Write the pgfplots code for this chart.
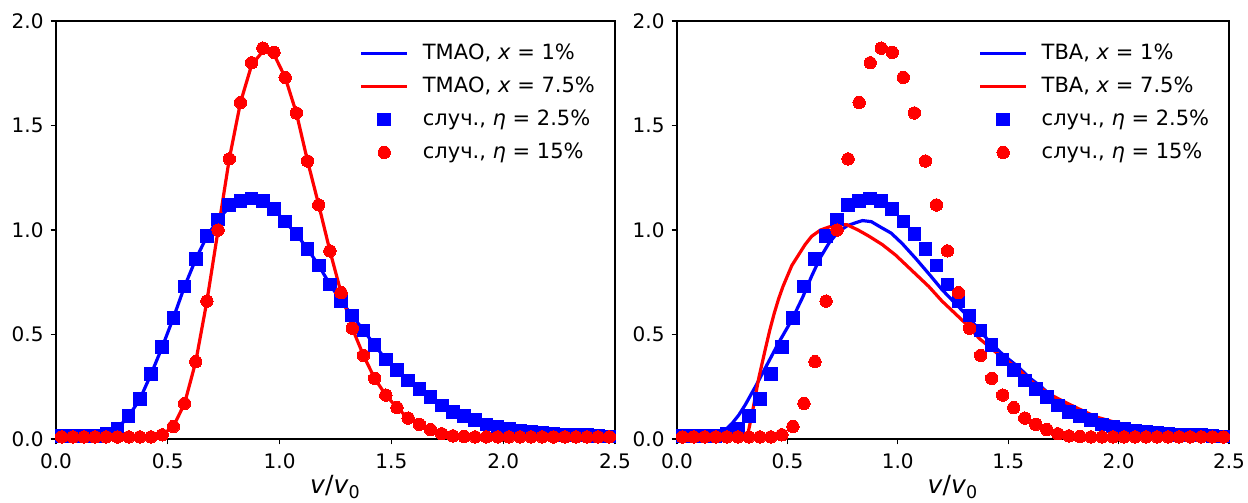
\documentclass[border=0pt]{standalone}
\usepackage{fontspec}
\setmainfont{DejaVu Sans}
\usepackage{pgfplots}
\pgfplotsset{compat=1.18}
\usepackage{pgfplotstable}

\pgfplotstableread{
x sq ci
0.025 0.015 0.01
0.075 0.015 0.01
0.125 0.015 0.01
0.175 0.015 0.01
0.225 0.025 0.01
0.275 0.05 0.01
0.325 0.11 0.01
0.375 0.19 0.01
0.425 0.31 0.01
0.475 0.44 0.02
0.525 0.58 0.06
0.575 0.73 0.17
0.625 0.86 0.37
0.675 0.97 0.66
0.725 1.05 1.00
0.775 1.12 1.34
0.825 1.14 1.61
0.875 1.15 1.80
0.925 1.14 1.87
0.975 1.10 1.85
1.025 1.04 1.73
1.075 0.98 1.56
1.125 0.91 1.33
1.175 0.83 1.12
1.225 0.74 0.90
1.275 0.66 0.70
1.325 0.59 0.53
1.375 0.52 0.40
1.425 0.45 0.29
1.475 0.38 0.21
1.525 0.33 0.15
1.575 0.28 0.10
1.625 0.24 0.07
1.675 0.20 0.045
1.725 0.16 0.025
1.775 0.13 0.015
1.825 0.11 0.012
1.875 0.09 0.01
1.925 0.07 0.01
1.975 0.06 0.01
2.025 0.05 0.01
2.075 0.04 0.01
2.125 0.035 0.01
2.175 0.03 0.01
2.225 0.025 0.01
2.275 0.02 0.01
2.325 0.02 0.01
2.375 0.018 0.01
2.425 0.015 0.01
2.475 0.012 0.01
}\markdata

\pgfplotstableread{
x y
0 0.015
0.025 0.015
0.175 0.015
0.225 0.025
0.275 0.05
0.325 0.11
0.375 0.19
0.425 0.31
0.475 0.44
0.525 0.58
0.575 0.73
0.625 0.86
0.675 0.97
0.725 1.05
0.775 1.11
0.825 1.14
0.875 1.15
0.925 1.14
0.975 1.10
1.025 1.04
1.075 0.98
1.125 0.91
1.175 0.83
1.225 0.74
1.275 0.66
1.325 0.59
1.375 0.52
1.425 0.45
1.475 0.38
1.525 0.33
1.575 0.28
1.625 0.24
1.675 0.20
1.725 0.16
1.775 0.13
1.825 0.11
1.875 0.09
1.925 0.07
1.975 0.06
2.025 0.05
2.075 0.04
2.125 0.035
2.175 0.03
2.225 0.025
2.275 0.02
2.375 0.018
2.5 0.012
}\tmaoA

\pgfplotstableread{
x y
0 0.01
0.425 0.01
0.475 0.02
0.525 0.06
0.575 0.17
0.625 0.37
0.675 0.66
0.725 1.00
0.775 1.34
0.825 1.61
0.875 1.79
0.925 1.855
0.975 1.84
1.025 1.73
1.075 1.56
1.125 1.33
1.175 1.12
1.225 0.90
1.275 0.70
1.325 0.53
1.375 0.40
1.425 0.29
1.475 0.21
1.525 0.15
1.575 0.10
1.625 0.07
1.675 0.045
1.725 0.025
1.775 0.015
1.825 0.012
1.875 0.01
2.5 0.01
}\tmaoB

\pgfplotstableread{
x y
0 0.02
0.15 0.02
0.19 0.025
0.22 0.045
0.25 0.075
0.28 0.115
0.31 0.165
0.36 0.26
0.41 0.36
0.46 0.46
0.52 0.57
0.57 0.68
0.61 0.78
0.65 0.87
0.69 0.94
0.73 0.99
0.77 1.02
0.81 1.035
0.84 1.045
0.88 1.04
0.92 1.015
0.97 0.985
1.02 0.935
1.08 0.865
1.145 0.785
1.20 0.715
1.25 0.66
1.31 0.595
1.37 0.52
1.42 0.46
1.48 0.40
1.54 0.35
1.60 0.29
1.65 0.25
1.69 0.21
1.75 0.17
1.80 0.135
1.85 0.11
1.90 0.085
1.95 0.068
2.00 0.055
2.10 0.038
2.20 0.027
2.30 0.02
2.40 0.017
2.50 0.015
}\tbaA

\pgfplotstableread{
x y
0 0.01
0.30 0.01
0.32 0.02
0.34 0.12
0.37 0.29
0.40 0.43
0.42 0.52
0.44 0.60
0.46 0.67
0.48 0.73
0.50 0.78
0.52 0.83
0.55 0.88
0.58 0.93
0.61 0.97
0.65 1.00
0.69 1.015
0.74 1.025
0.77 1.025
0.82 1.00
0.87 0.97
0.93 0.93
0.99 0.88
1.05 0.82
1.10 0.77
1.14 0.73
1.20 0.66
1.25 0.61
1.31 0.55
1.37 0.48
1.45 0.41
1.54 0.34
1.60 0.28
1.69 0.213
1.75 0.18
1.84 0.134
1.90 0.105
1.99 0.078
2.07 0.06
2.15 0.046
2.22 0.035
2.30 0.025
2.40 0.02
2.50 0.015
}\tbaB

\pgfplotsset{
  panel/.style={
    scale only axis, height=209pt,
    xmin=0, xmax=2.5, ymin=0, ymax=2,
    xtick={0,0.5,1,1.5,2,2.5}, ytick={0,0.5,1,1.5,2},
    tick align=outside, tick pos=left,
    major tick length=2.7pt,
    tick style={black, line width=0.65pt},
    axis line style={black, line width=0.65pt},
    every tick label/.append style={font=\fontsize{10}{12}\selectfont},
    xticklabel style={yshift=-1pt},
    /pgf/number format/fixed, /pgf/number format/fixed zerofill,
    /pgf/number format/precision=1, /pgf/number format/assume math mode=true,
    xlabel={\textit{v}/\textit{v}\textsubscript{0}},
    xlabel style={font=\fontsize{12.5}{15}\selectfont, at={(axis description cs:0.5,0)}, anchor=center, yshift=-24pt},
    legend style={draw=none, fill=none, at={(axis description cs:0.972,0.955)}, anchor=north east,
      font=\fontsize{10.5}{12.5}\selectfont, row sep=3.2pt, inner sep=0pt},
    legend cell align=left,
    clip=true,
  },
  lineplot/.style={line width=1.6pt, mark=none,
    legend image code/.code={\draw[##1] (0pt,0pt) -- (23pt,0pt); \path (28pt,0pt);}},
  sqplot/.style={only marks, color=blue, mark=square*, mark size=3.15pt, mark options={solid, draw=blue, fill=blue, line width=0pt},
    legend image code/.code={\draw[##1] plot coordinates {(11.5pt,0pt)}; \path (0pt,0pt) (28pt,0pt);}},
  ciplot/.style={only marks, color=red, mark=*, mark size=3.1pt, mark options={solid, draw=red, fill=red, line width=0pt},
    legend image code/.code={\draw[##1] plot coordinates {(11.5pt,0pt)}; \path (0pt,0pt) (28pt,0pt);}},
}

\begin{document}
\begin{tikzpicture}
\useasboundingbox (-28pt,-32pt) rectangle (596pt,219.5pt);
\begin{axis}[panel, width=279.5pt, at={(0pt,0pt)}, anchor=south west]
\addplot[lineplot, blue] table[x=x, y=y] {\tmaoA};
\addlegendentry{ТМАО, \textit{x} = 1\%}
\addplot[lineplot, red] table[x=x, y=y] {\tmaoB};
\addlegendentry{ТМАО, \textit{x} = 7.5\%}
\addplot[sqplot] table[x=x, y=sq] {\markdata};
\addlegendentry{случ., \textit{η} = 2.5\%}
\addplot[ciplot] table[x=x, y=ci] {\markdata};
\addlegendentry{случ., \textit{η} = 15\%}
\end{axis}
\begin{axis}[panel, width=276pt, at={(310.5pt,0pt)}, anchor=south west]
\addplot[lineplot, blue] table[x=x, y=y] {\tbaA};
\addlegendentry{ТВА, \textit{x} = 1\%}
\addplot[lineplot, red] table[x=x, y=y] {\tbaB};
\addlegendentry{ТВА, \textit{x} = 7.5\%}
\addplot[sqplot] table[x=x, y=sq] {\markdata};
\addlegendentry{случ., \textit{η} = 2.5\%}
\addplot[ciplot] table[x=x, y=ci] {\markdata};
\addlegendentry{случ., \textit{η} = 15\%}
\end{axis}
\end{tikzpicture}
\end{document}
